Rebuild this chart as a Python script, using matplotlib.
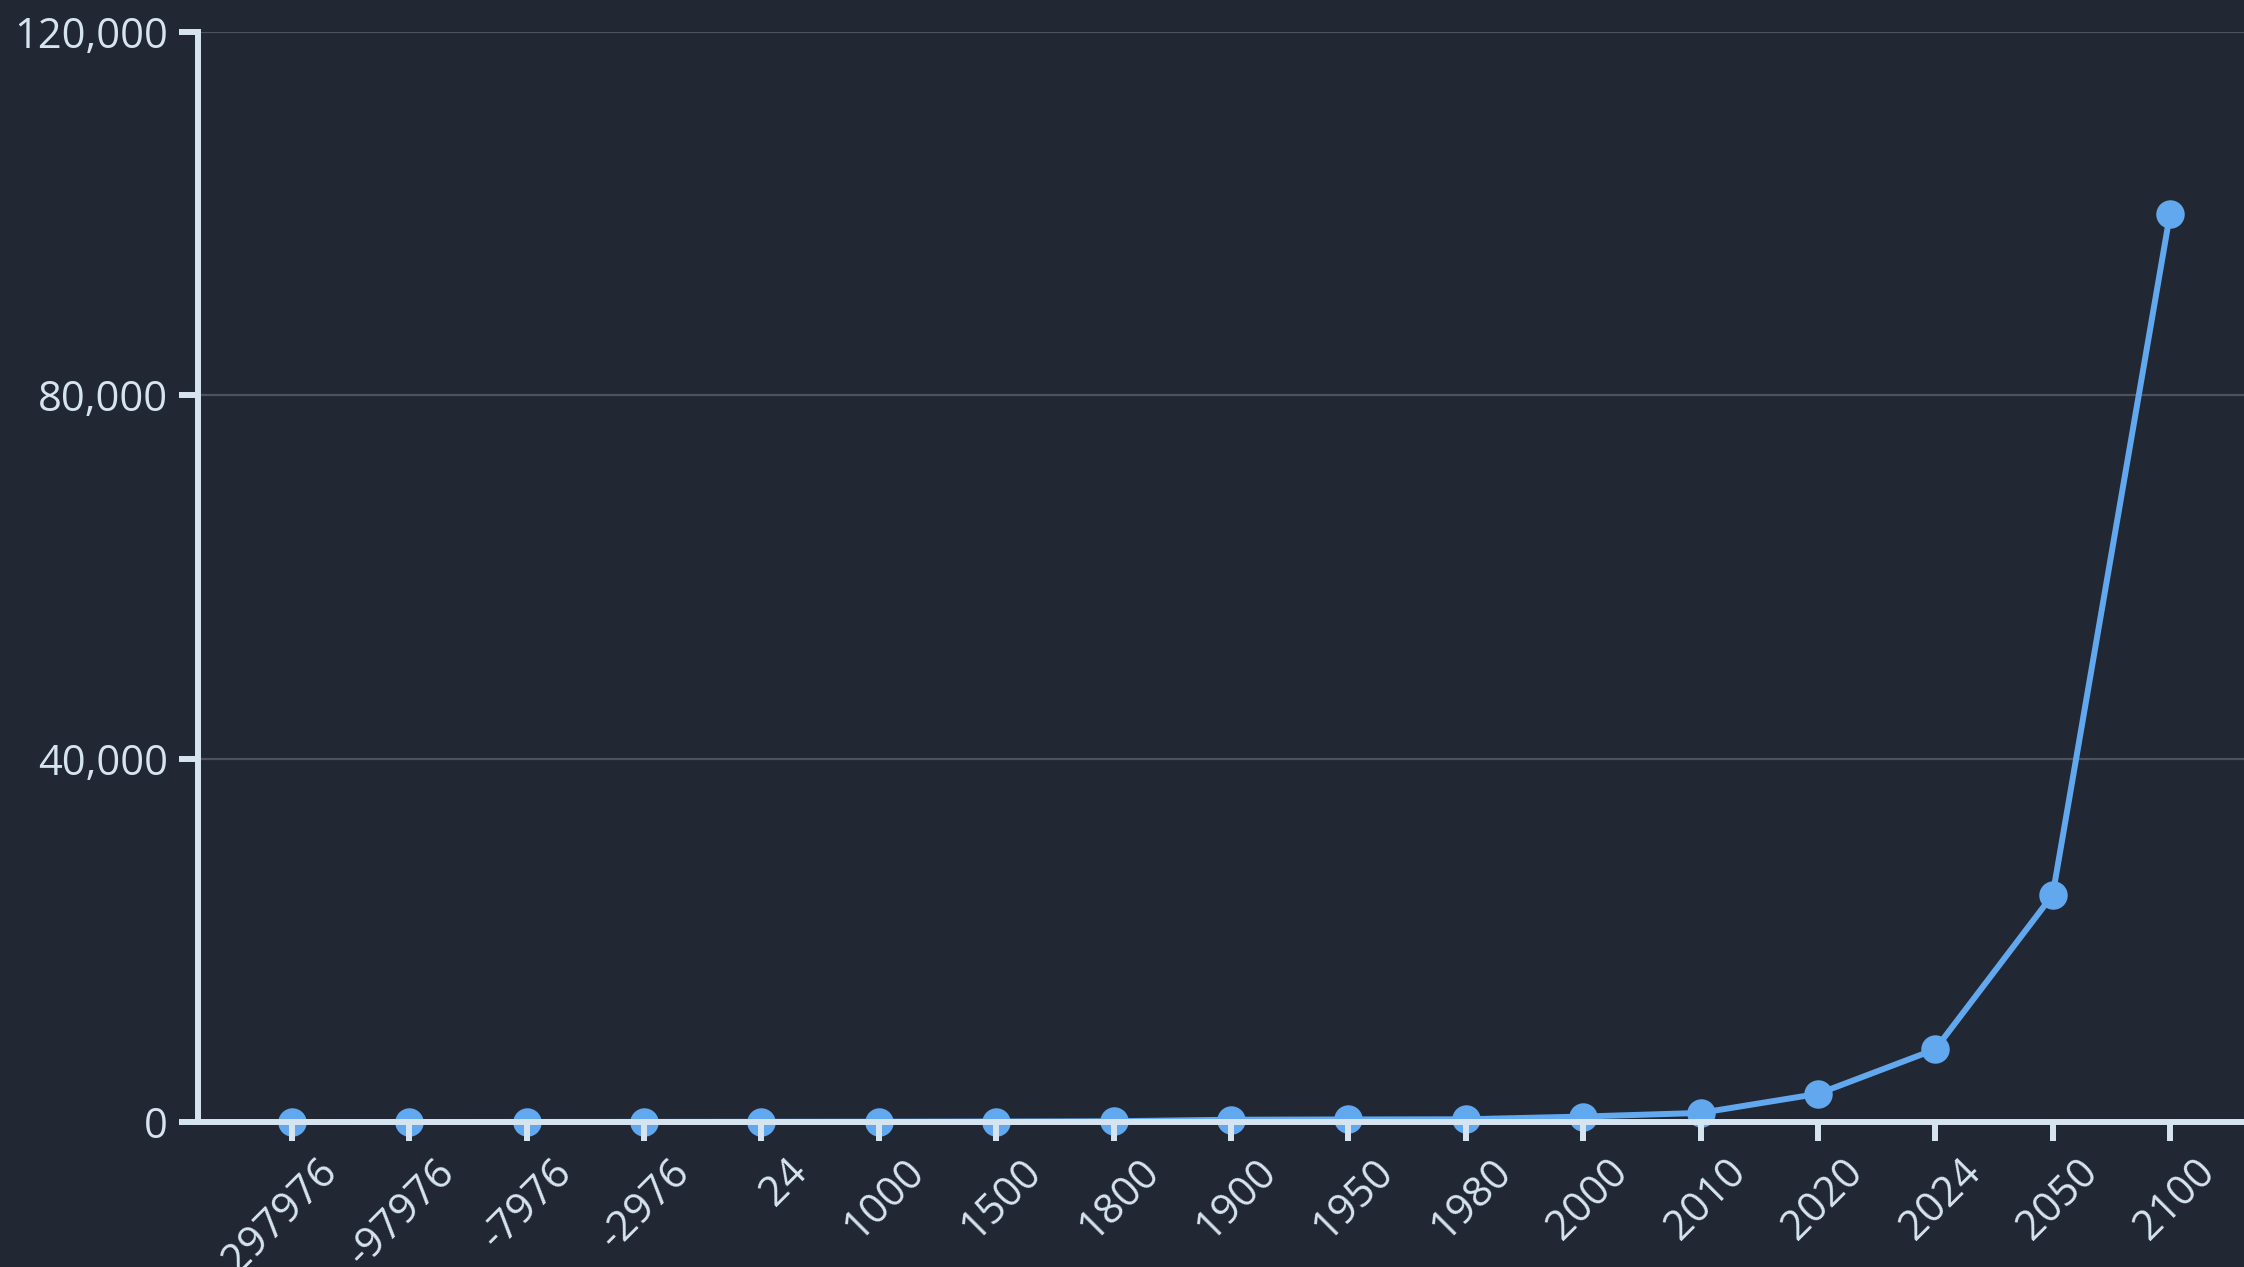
import matplotlib
matplotlib.use("Agg")
import matplotlib.pyplot as plt
from matplotlib.ticker import FuncFormatter
from matplotlib.transforms import ScaledTranslation

# values
years = ["-297976", "-97976", "-7976", "-2976", "24", "1000", "1500", "1800",
         "1900", "1950", "1980", "2000", "2010", "2020", "2024", "2050", "2100"]
values = [1, 2, 5, 10, 20, 30, 50, 80,
          250, 280, 300, 600, 1000, 3100, 8000, 25000, 100000]
y_ticks = [0, 40000, 80000, 120000]

bg = "#212733"
axis_col = "#d6e4f0"
line_col = "#62a8ef"
grid_col = "#4d525d"

plt.rcParams["font.family"] = ["Open Sans", "DejaVu Sans"]

fig = plt.figure(figsize=(22.44, 12.67), dpi=100, facecolor=bg)
ax = fig.add_axes([198 / 2244, 145 / 1267, 1 - 198 / 2244, (1122 - 32) / 1267])
ax.set_facecolor(bg)

x = list(range(len(years)))
ax.plot(x, values, color=line_col, linewidth=4.3, marker="o", markersize=20.5,
        markeredgewidth=0, zorder=2, clip_on=False)

for yt in y_ticks[1:]:
    ax.axhline(yt, color=grid_col, linewidth=1.6, zorder=0.5)

ax.set_xlim(-0.8, 16.63)
ax.set_ylim(0, 120000)
ax.set_axisbelow(False)

for side in ["top", "right"]:
    ax.spines[side].set_visible(False)
for side in ["left", "bottom"]:
    ax.spines[side].set_color(axis_col)
    ax.spines[side].set_linewidth(4.3)
    ax.spines[side].set_zorder(3)

ax.set_yticks(y_ticks)
ax.yaxis.set_major_formatter(FuncFormatter(lambda v, p: f"{int(v):,}"))
ax.tick_params(axis="both", colors=axis_col, labelcolor=axis_col, length=13.5,
               width=4.3, direction="out", labelsize=30, pad=8)

ax.set_xticks(x)
ax.set_xticklabels(years, rotation=45, ha="right", va="center",
                   rotation_mode="anchor")
shift = ScaledTranslation(0.39, -0.14, fig.dpi_scale_trans)
for lbl in ax.get_xticklabels():
    lbl.set_transform(lbl.get_transform() + shift)

fig.savefig("out.png", dpi=100, facecolor=bg)
